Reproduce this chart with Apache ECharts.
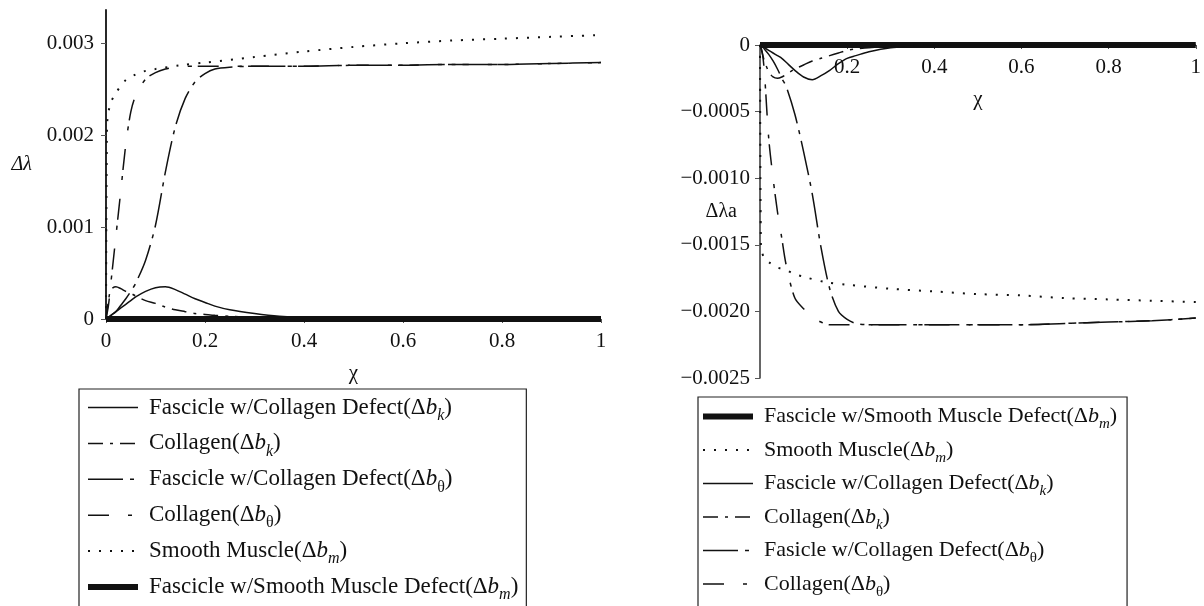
<!DOCTYPE html>
<html><head><meta charset="utf-8">
<script src="https://cdn.jsdelivr.net/npm/echarts@6/dist/echarts.min.js"></script>
<style>html,body{margin:0;padding:0;background:#fff}#c{width:1204px;height:606px}</style>
</head><body><div id="c"></div><script>
// ---- data ----
const xGrid = [0, 0.005, 0.01, 0.02, 0.03, 0.04, 0.05, 0.06, 0.08, 0.1, 0.12, 0.14, 0.16, 0.18, 0.2, 0.22, 0.25, 0.3, 0.35, 0.4, 0.5, 0.6, 0.7, 0.8, 0.9, 1];
const smX = [0, 0.002, 0.005, 0.01, 0.02, 0.04, 0.06, 0.08, 0.1, 0.15, 0.2, 0.3, 0.4, 0.5, 0.6, 0.7, 0.8, 0.9, 1];
const thickX = [0, 1];

// left panel (Δλ)
const fasBkL = [0, 0.00002, 0.00004, 0.00008, 0.00012, 0.00016, 0.0002, 0.00024, 0.0003, 0.00034, 0.00035, 0.00032, 0.00027, 0.00022, 0.00018, 0.00014, 0.0001, 0.00006, 0.00003, 0.000015, 0.000003, 0, 0, 0, 0, 0];
const colBkL = [0, 0.0002, 0.00032, 0.00035, 0.00033, 0.0003, 0.00028, 0.00025, 0.0002, 0.00017, 0.00013, 0.0001, 0.00008, 0.00006, 0.00005, 0.00004, 0.00003, 0.000015, 0.000007, 0.000003, 0, 0, 0, 0, 0, 0];
const fasBtL = [0, 0.00002, 0.00004, 0.00008, 0.00015, 0.00022, 0.0003, 0.00039, 0.00064, 0.00102, 0.0016, 0.00209, 0.0024, 0.00258, 0.00267, 0.00272, 0.00274, 0.00275, 0.00275, 0.00275, 0.00276, 0.00276, 0.00277, 0.00277, 0.00278, 0.00279];
const colBtL = [0, 0.00015, 0.0004, 0.0009, 0.0014, 0.0019, 0.00225, 0.00243, 0.00261, 0.00268, 0.00272, 0.00274, 0.00275, 0.00275, 0.00275, 0.00275, 0.00275, 0.00275, 0.00275, 0.00275, 0.00276, 0.00276, 0.00277, 0.00277, 0.00278, 0.00279];
const smL = [0, 0.0021, 0.00225, 0.00236, 0.00246, 0.0026, 0.00266, 0.0027, 0.00272, 0.00276, 0.00279, 0.00285, 0.00291, 0.00296, 0.003, 0.00303, 0.00305, 0.00307, 0.00309];
const thickL = [0, 0];

// right panel (Δλa)
const fasBkR = [0, -0.00001, -0.00002, -0.00004, -0.00006, -0.00008, -0.0001, -0.00013, -0.00019, -0.00024, -0.00026, -0.00023, -0.00019, -0.00014, -0.0001, -0.00008, -0.00005, -0.00002, -0.00001, 0, 0, 0, 0, 0, 0, 0];
const colBkR = [0, -0.00006, -0.00012, -0.0002, -0.00024, -0.00025, -0.00024, -0.00022, -0.00018, -0.00015, -0.00012, -0.0001, -0.00008, -0.00006, -0.00004, -0.00003, -0.00002, -0.00001, 0, 0, 0, 0, 0, 0, 0, 0];
const fasBtR = [0, -0.00001, -0.00003, -0.00007, -0.00012, -0.00018, -0.00025, -0.00031, -0.00052, -0.0008, -0.00112, -0.00152, -0.00183, -0.002, -0.00206, -0.00209, -0.0021, -0.0021, -0.0021, -0.0021, -0.0021, -0.0021, -0.00209, -0.00208, -0.00207, -0.00205];
const colBtR = [0, -0.00005, -0.0002, -0.0007, -0.001, -0.00125, -0.00145, -0.00165, -0.0019, -0.00198, -0.00204, -0.00208, -0.0021, -0.0021, -0.0021, -0.0021, -0.0021, -0.0021, -0.0021, -0.0021, -0.0021, -0.0021, -0.00209, -0.00208, -0.00207, -0.00205];
const smR = [0, -0.0015, -0.00156, -0.0016, -0.00163, -0.00167, -0.00169, -0.00172, -0.00174, -0.00178, -0.0018, -0.00183, -0.00185, -0.00187, -0.00188, -0.0019, -0.00191, -0.00192, -0.00193];
const thickR = [0, 0];

// ticks
const xTicksL = [0, 0.2, 0.4, 0.6, 0.8, 1];
const yTicksL = [0, 0.001, 0.002, 0.003];
const xTicksR = [0.2, 0.4, 0.6, 0.8, 1];
const yTicksR = [0, -0.0005, -0.001, -0.0015, -0.002, -0.0025];

// legend entries
const namesL = ['Fascicle w/Collagen Defect(Δb_k)', 'Collagen(Δb_k)', 'Fascicle w/Collagen Defect(Δb_θ)', 'Collagen(Δb_θ)', 'Smooth Muscle(Δb_m)', 'Fascicle w/Smooth Muscle Defect(Δb_m)'];
const namesR = ['Fascicle w/Smooth Muscle Defect(Δb_m) ', 'Smooth Muscle(Δb_m) ', 'Fascicle w/Collagen Defect(Δb_k) ', 'Collagen(Δb_k) ', 'Fasicle w/Collagen Defect(Δb_θ) ', 'Collagen(Δb_θ) '];

function rich(name) {
  const n = name.trim();
  const m = n.match(/^(.*)\(Δb_(.)\)$/);
  const sub = m[2] === 'θ' ? '{su|θ}' : '{si|' + m[2] + '}';
  return '{p|' + m[1] + '(Δ}{i|b}' + sub + '{t|)}';
}
const pairs = (xs, ys) => xs.map((x, i) => [x, ys[i]]);

const FONT = 'Liberation Serif';
const INK = '#111';
const styles = {
  solid:   { type: 'solid', width: 1.5 },
  dashdot: { type: [15, 7, 3, 7], width: 1.5 },
  longshort: { type: [35, 7, 4, 7], width: 1.5 },
  dashgap: { type: [21, 19, 4, 6], width: 1.5 },
  dotted:  { type: [2, 9], width: 2 },
  thick:   { type: 'solid', width: 6 }
};
function mk(name, xs, ys, st, xi, yi) {
  return {
    type: 'line', name, xAxisIndex: xi, yAxisIndex: yi, data: pairs(xs, ys),
    symbol: 'none', smooth: 0.3, clip: false, silent: true,
    itemStyle: { color: INK },
    lineStyle: Object.assign({ color: INK, cap: 'butt' }, styles[st])
  };
}

const axisFont = { fontFamily: FONT, fontSize: 21, color: INK };
function richStyles(f, s) {
  return {
    p: { fontFamily: FONT, fontSize: f, color: INK, padding: [0, 0, 0, 6] },
    t: { fontFamily: FONT, fontSize: f, color: INK },
    i: { fontFamily: FONT, fontSize: f, color: INK, fontStyle: 'italic' },
    si: { fontFamily: FONT, fontSize: s, color: INK, fontStyle: 'italic', padding: [16, 0, 0, 0] },
    su: { fontFamily: FONT, fontSize: s, color: INK, padding: [16, 0, 0, 0] }
  };
}
function legend(left, top, data, gap, pad, f, s) {
  return {
    orient: 'vertical', left, top, height: 320, data, itemGap: gap, padding: pad,
    itemWidth: 50, itemHeight: 14, selectedMode: false,
    borderColor: '#222', borderWidth: 1.2, backgroundColor: 'transparent',
    itemStyle: { opacity: 0 },
    lineStyle: { width: 'inherit', type: 'inherit', color: 'inherit', cap: 'butt' },
    formatter: rich,
    textStyle: { fontFamily: FONT, fontSize: f, color: INK, rich: richStyles(f, s) }
  };
}

const option = {
  animation: false,
  backgroundColor: '#fff',
  grid: [
    { left: 106, top: 10, right: 603, bottom: 287 },
    { left: 760, top: 45, right: 4, bottom: 228 }
  ],
  xAxis: [
    { gridIndex: 0, type: 'value', min: 0, max: 1,
      name: 'χ', nameLocation: 'middle', nameGap: 44,
      nameTextStyle: { fontFamily: FONT, fontSize: 21, color: INK },
      axisLine: { lineStyle: { color: '#333', width: 1.2 } },
      axisTick: { show: true, length: 4, customValues: xTicksL, lineStyle: { color: '#555' } },
      axisLabel: Object.assign({ customValues: xTicksL, margin: 12, formatter: v => String(v) }, axisFont),
      splitLine: { show: false } },
    { gridIndex: 1, type: 'value', min: 0, max: 1, position: 'bottom', offset: -333,
      name: 'χ', nameLocation: 'middle', nameGap: 44, nameMoveOverlap: false,
      nameTextStyle: { fontFamily: FONT, fontSize: 21, color: INK },
      axisLine: { onZero: false, lineStyle: { color: '#333', width: 1.2 } },
      axisTick: { show: true, length: 4, customValues: xTicksR, lineStyle: { color: '#555' } },
      axisLabel: Object.assign({ customValues: xTicksR, margin: 12, formatter: v => String(v) }, axisFont),
      splitLine: { show: false } }
  ],
  yAxis: [
    { gridIndex: 0, type: 'value', min: 0, max: 0.003362,
      name: 'Δλ', nameLocation: 'middle', nameGap: 74, nameRotate: 0, nameMoveOverlap: false,
      nameTextStyle: { fontFamily: FONT, fontSize: 20, color: INK, fontStyle: 'italic' },
      axisLine: { show: true, lineStyle: { color: '#111', width: 1.8 } },
      axisTick: { show: true, length: 5, customValues: yTicksL, lineStyle: { color: '#555' } },
      axisLabel: Object.assign({ customValues: yTicksL, margin: 12, formatter: v => v === 0 ? '0' : v.toFixed(3) }, axisFont),
      splitLine: { show: false } },
    { gridIndex: 1, type: 'value', min: -0.0025, max: 0,
      name: 'Δλa', nameLocation: 'middle', nameGap: 23, nameRotate: 0, nameMoveOverlap: false,
      nameTextStyle: { fontFamily: FONT, fontSize: 20, color: INK },
      axisLine: { show: true, lineStyle: { color: '#333', width: 1.5 } },
      axisTick: { show: true, length: 5, customValues: yTicksR, lineStyle: { color: '#555' } },
      axisLabel: Object.assign({ customValues: yTicksR, margin: 10, formatter: v => v === 0 ? '0' : '−' + Math.abs(v).toFixed(4) }, axisFont),
      splitLine: { show: false } }
  ],
  legend: [
    legend(79, 389, namesL, 8.4, [7, 8, 30, 6], 23, 16),
    legend(698, 397, namesR, 7.0, [8.5, 10, 30, 2], 22, 15)
  ],
  series: [
    mk(namesL[0], xGrid, fasBkL, 'solid', 0, 0),
    mk(namesL[1], xGrid, colBkL, 'dashdot', 0, 0),
    mk(namesL[2], xGrid, fasBtL, 'longshort', 0, 0),
    mk(namesL[3], xGrid, colBtL, 'dashgap', 0, 0),
    mk(namesL[4], smX, smL, 'dotted', 0, 0),
    mk(namesL[5], thickX, thickL, 'thick', 0, 0),
    mk(namesR[0], thickX, thickR, 'thick', 1, 1),
    mk(namesR[1], smX, smR, 'dotted', 1, 1),
    mk(namesR[2], xGrid, fasBkR, 'solid', 1, 1),
    mk(namesR[3], xGrid, colBkR, 'dashdot', 1, 1),
    mk(namesR[4], xGrid, fasBtR, 'longshort', 1, 1),
    mk(namesR[5], xGrid, colBtR, 'dashgap', 1, 1)
  ]
};
const chart = echarts.init(document.getElementById('c'), null, { renderer: 'canvas' });
chart.setOption(option);
</script></body></html>
